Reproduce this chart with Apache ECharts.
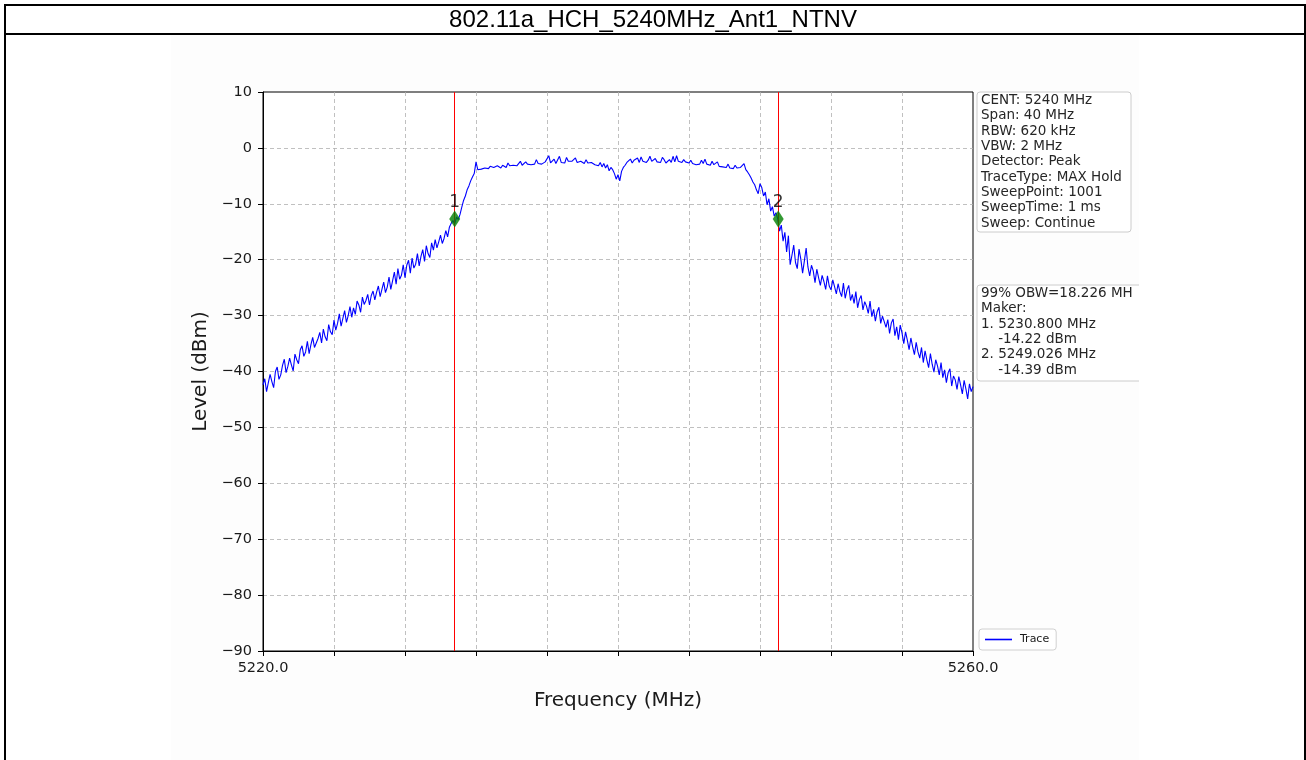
<!DOCTYPE html>
<html>
<head>
<meta charset="utf-8">
<script src="https://cdn.jsdelivr.net/npm/echarts@6/dist/echarts.min.js"></script>
<style>
html,body{margin:0;padding:0;background:#fff;}
#chart{width:1306px;height:760px;}
</style>
</head>
<body>
<div id="chart"></div>
<script>
const titleText = '802.11a_HCH_5240MHz_Ant1_NTNV';
const freqStart = 5220;
const freqStep = 0.1;
const levels = [
-42.4,-41.3,-43.6,-42.0,-40.5,-41.8,-42.9,-40.0,-39.2,-41.4,
-40.6,-38.9,-37.8,-40.2,-39.1,-37.6,-38.8,-39.9,-36.9,-37.9,
-38.6,-36.1,-35.4,-37.3,-36.5,-34.6,-36.8,-35.2,-33.9,-35.7,
-36.0,-34.1,-33.0,-34.9,-32.4,-33.8,-34.5,-31.6,-32.9,-33.4,
-30.8,-32.6,-31.4,-29.7,-31.9,-30.5,-29.1,-31.2,-30.0,-28.4,
-30.3,-28.6,-29.8,-27.4,-28.1,-29.4,-26.7,-28.0,-27.3,-26.2,
-28.1,-26.4,-25.6,-27.2,-25.8,-24.7,-26.6,-25.3,-24.0,-25.9,
-24.9,-23.1,-25.3,-23.8,-22.2,-24.4,-21.6,-23.5,-22.8,-20.9,
-23.2,-21.0,-20.1,-22.4,-19.7,-21.5,-20.8,-18.9,-21.1,-19.4,
-18.2,-20.3,-17.5,-18.9,-19.6,-17.0,-18.3,-16.4,-17.9,-16.8,
-15.6,-17.1,-16.2,-14.8,-15.9,-14.2,-13.5,-13.0,-13.6,-12.4,
-12.8,-11.9,-10.6,-9.4,-8.6,-7.5,-6.8,-5.9,-5.2,-4.6,
-2.5,-3.9,-4.1,-3.8,-3.9,-3.6,-3.8,-3.7,-3.3,-3.6,
-3.5,-3.7,-3.2,-3.4,-3.6,-3.1,-3.3,-3.5,-2.7,-3.2,
-3.3,-3.1,-2.8,-3.2,-3.0,-2.4,-3.1,-2.9,-2.5,-2.9,
-2.8,-3.0,-2.7,-2.9,-2.1,-2.8,-2.6,-2.9,-2.7,-2.5,
-2.6,-1.4,-2.7,-2.4,-2.0,-2.8,-2.5,-1.5,-2.6,-2.3,
-2.7,-1.7,-2.4,-2.6,-2.4,-2.3,-1.8,-2.6,-2.5,-2.4,
-2.5,-2.8,-2.1,-2.7,-2.9,-2.6,-2.3,-3.0,-2.7,-3.2,
-2.6,-3.4,-2.8,-3.6,-3.0,-4.1,-3.5,-3.9,-4.6,-5.6,
-4.8,-5.9,-4.2,-3.5,-3.1,-2.6,-2.9,-2.0,-2.7,-2.2,
-2.5,-1.8,-2.6,-1.6,-2.4,-2.1,-2.6,-2.2,-1.5,-2.4,
-2.3,-1.9,-2.5,-2.2,-2.6,-1.7,-2.1,-2.7,-2.4,-2.1,
-2.6,-1.5,-2.5,-1.4,-2.4,-2.3,-2.6,-2.1,-2.5,-2.4,
-2.7,-2.2,-2.8,-2.6,-3.0,-2.7,-2.9,-2.2,-2.8,-2.0,
-2.9,-2.6,-3.1,-2.4,-3.0,-3.2,-2.5,-3.3,-3.0,-3.4,
-3.1,-3.5,-2.9,-3.6,-3.4,-3.7,-3.1,-3.6,-3.8,-3.5,
-3.7,-2.8,-3.9,-4.3,-4.8,-5.4,-6.1,-6.6,-7.5,-8.2,
-6.4,-7.1,-8.6,-7.9,-10.2,-9.1,-11.3,-10.5,-12.2,-11.6,
-12.7,-14.9,-13.8,-16.7,-15.1,-18.6,-15.7,-20.9,-19.2,-17.4,
-20.5,-21.6,-18.1,-19.9,-22.4,-20.2,-17.9,-21.3,-22.9,-21.0,
-22.0,-24.1,-21.7,-23.2,-24.6,-22.8,-23.9,-25.3,-22.9,-24.7,
-25.4,-23.6,-24.8,-26.1,-24.3,-25.7,-26.6,-24.2,-26.9,-25.4,
-24.6,-27.3,-26.2,-27.8,-25.7,-28.6,-27.1,-26.4,-29.0,-27.5,
-28.3,-29.6,-27.4,-30.2,-28.9,-31.0,-29.3,-28.5,-31.4,-30.1,
-29.8,-32.1,-30.7,-33.2,-31.3,-30.6,-33.6,-32.0,-34.3,-31.7,
-33.1,-35.0,-32.9,-34.4,-36.1,-34.0,-35.6,-37.0,-34.8,-36.5,
-37.6,-35.7,-38.4,-36.3,-37.9,-39.3,-36.8,-38.7,-40.1,-37.9,
-39.0,-40.6,-38.4,-41.1,-39.7,-42.0,-40.2,-39.5,-42.6,-40.8,
-41.5,-43.2,-40.9,-42.4,-44.0,-41.6,-43.1,-44.9,-42.2,-43.6,
-42.7
];
const markerFreqs = [5230.8, 5249.026];
const markerLevels = [-12.7, -12.7];
const markerNames = ['1', '2'];
const xLabeledTicks = [5220, 5260];
const infoLines1 = ['CENT: 5240 MHz','Span: 40 MHz','RBW: 620 kHz','VBW: 2 MHz','Detector: Peak','TraceType: MAX Hold','SweepPoint: 1001','SweepTime: 1 ms','Sweep: Continue'];
const infoLines2 = ['99% OBW=18.226 MH','Maker:','1. 5230.800 MHz','    -14.22 dBm','2. 5249.026 MHz','    -14.39 dBm'];

const traceData = levels.map((v, i) => [+(freqStart + i * freqStep).toFixed(1), v]);
const markerData = markerFreqs.map((f, i) => ({ value: [f, markerLevels[i]], name: markerNames[i] }));

const chart = echarts.init(document.getElementById('chart'), null, { renderer: 'canvas' });
const tickFont = 'DejaVu Sans';
const minus = s => String(s).replace('-', '\u2212');

chart.setOption({
  backgroundColor: '#ffffff',
  animation: false,
  grid: { left: 263, top: 92, right: 333, bottom: 109, show: true, borderColor: '#000', borderWidth: 1, backgroundColor: '#ffffff' },
  xAxis: {
    type: 'value', min: 5220, max: 5260, interval: 4,
    name: 'Frequency (MHz)', nameLocation: 'middle', nameGap: 40,
    nameTextStyle: { fontFamily: tickFont, fontSize: 20, color: '#1a1a1a' },
    axisLine: { show: true, onZero: false, lineStyle: { color: '#000', width: 1 } },
    axisTick: { show: true, inside: false, length: 5, lineStyle: { color: '#000' } },
    axisLabel: { margin: 10, fontFamily: tickFont, fontSize: 14.5, color: '#1a1a1a', showMinLabel: true, showMaxLabel: true,
      formatter: v => xLabeledTicks.includes(v) ? v.toFixed(1) : '' },
    splitLine: { show: true, showMinLine: false, showMaxLine: false, lineStyle: { color: '#b0b0b0', type: [4, 3], width: 0.8 } }
  },
  yAxis: {
    type: 'value', min: -90, max: 10, interval: 10,
    name: 'Level (dBm)', nameLocation: 'middle', nameGap: 48,
    nameTextStyle: { fontFamily: tickFont, fontSize: 20, color: '#1a1a1a' },
    axisLine: { show: true, onZero: false, lineStyle: { color: '#000', width: 1 } },
    axisTick: { show: true, inside: false, length: 5, lineStyle: { color: '#000' } },
    axisLabel: { margin: 11, fontFamily: tickFont, fontSize: 14.5, color: '#1a1a1a', formatter: v => minus(v) },
    splitLine: { show: true, showMinLine: false, showMaxLine: false, lineStyle: { color: '#b0b0b0', type: [4, 3], width: 0.8 } }
  },
  legend: {
    show: true, data: [{ name: 'Trace', icon: 'rect' }], left: 979, top: 629, orient: 'vertical',
    padding: [5, 7, 5, 6], itemWidth: 27, itemHeight: 1.6, itemGap: 0,
    borderColor: '#d0d0d0', borderWidth: 1, borderRadius: 3, backgroundColor: '#ffffff',
    textStyle: { fontFamily: tickFont, fontSize: 11, color: '#1a1a1a', padding: [0, 0, 0, 3] }
  },
  series: [
    {
      name: 'Trace', type: 'line', data: traceData, symbol: 'none', showSymbol: false,
      lineStyle: { color: '#0000ff', width: 1.1 }, itemStyle: { color: '#0000ff' },
      z: 3,
      markLine: {
        silent: true, symbol: 'none', label: { show: false },
        lineStyle: { color: '#ff0000', width: 1, type: 'solid' },
        data: markerFreqs.map(f => ({ xAxis: f }))
      }
    },
    {
      name: 'Markers', type: 'scatter', data: markerData, symbol: 'diamond', symbolSize: [11, 17],
      itemStyle: { color: '#008000' }, z: 5,
      label: { show: true, position: 'top', distance: -1, formatter: p => p.name, fontFamily: tickFont, fontSize: 17, color: '#000' }
    }
  ],
  graphic: [
    { type: 'rect', shape: { x: 171, y: 34, width: 968, height: 726 }, style: { fill: '#fdfdfd' }, z: -10, silent: true },
    { type: 'rect', shape: { x: 977, y: 92, width: 154, height: 140, r: 3 }, style: { fill: '#ffffff', stroke: '#cccccc', lineWidth: 1 }, z: 10 },
    { type: 'text', left: 981, top: 93, z: 11, style: { text: infoLines1.join('\n'), fontFamily: tickFont, fontSize: 13.5, lineHeight: 15.3, fill: '#262626' } },
    { type: 'rect', shape: { x: 977, y: 285, width: 175, height: 96, r: 3 }, style: { fill: '#ffffff', stroke: '#cccccc', lineWidth: 1 }, z: 10 },
    { type: 'text', left: 981, top: 286, z: 11, style: { text: infoLines2.join('\n'), fontFamily: tickFont, fontSize: 13.5, lineHeight: 15.3, fill: '#262626' } },
    { type: 'rect', shape: { x: 1139, y: 36, width: 165, height: 724 }, style: { fill: '#ffffff' }, z: 20, silent: true },
    { type: 'line', shape: { x1: 4, y1: 5, x2: 1306, y2: 5 }, style: { stroke: '#000', lineWidth: 2 }, z: 30 },
    { type: 'line', shape: { x1: 4, y1: 34, x2: 1306, y2: 34 }, style: { stroke: '#000', lineWidth: 2 }, z: 30 },
    { type: 'line', shape: { x1: 5, y1: 4, x2: 5, y2: 760 }, style: { stroke: '#000', lineWidth: 2 }, z: 30 },
    { type: 'line', shape: { x1: 1305, y1: 4, x2: 1305, y2: 760 }, style: { stroke: '#000', lineWidth: 2 }, z: 30 },
    { type: 'text', x: 653, y: 20, z: 30, style: { text: titleText, fontFamily: 'Liberation Sans', fontSize: 24, fill: '#000', align: 'center', verticalAlign: 'middle' } }
  ]
});
</script>
</body>
</html>
